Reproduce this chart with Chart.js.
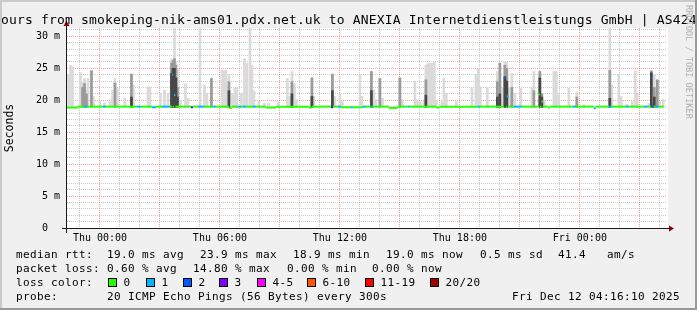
<!DOCTYPE html>
<html>
<head>
<meta charset="utf-8">
<script src="https://cdn.jsdelivr.net/npm/chart.js@4.4.0/dist/chart.umd.min.js"></script>
<style>
  body { margin: 0; background: #f0f0f0; }
  canvas { display: block; }
</style>
</head>
<body>
<canvas id="myChart" width="697" height="310"></canvas>
<script>
// all times are hours counted from Thu 00:00
const tickHours = [0, 6, 12, 18, 24];
const tickLabels = ['Thu 00:00', 'Thu 06:00', 'Thu 12:00', 'Thu 18:00', 'Fri 00:00'];

// smoke: highest ping of each step (ms)
const smokeTime = [
  -1.575, -1.475, -1.375, -0.975, -0.875, -0.775, -0.675, -0.6, -0.425, -0.325,
  0, 0.225, 0.5, 0.625, 0.75, 0.875, 1.25, 1.575, 1.675, 2.4,
  2.5, 3.025, 3.225, 3.4, 3.575, 3.65, 3.725, 3.8, 3.875, 4.025,
  4.275, 4.4, 5.0, 5.225, 5.35, 5.575, 6.1, 6.2, 6.3, 6.45,
  6.625, 6.75, 6.85, 7.075, 7.225, 7.35, 7.5, 7.6, 7.7, 7.95,
  8.225, 8.425, 8.925, 9.375, 9.5, 9.6, 9.725, 9.825, 10.6, 10.7,
  11.625, 11.75, 12.0, 12.125, 13.0, 13.1, 13.575, 13.7, 13.8, 14.0,
  14.125, 15.0, 15.125, 15.75, 15.875, 16.025, 16.2, 16.3, 16.4, 16.5,
  16.6, 16.725, 16.825, 17.1, 17.2, 17.325, 17.825, 18.6, 18.8, 18.925,
  19.025, 19.375, 19.875, 20.0, 20.15, 20.25, 20.35, 20.475, 20.6, 20.75,
  21.05, 21.6, 21.7, 22.0, 22.1, 22.225, 22.7, 22.825, 22.95, 23.45,
  23.85, 24.2, 25.5, 25.6, 25.95, 26.075, 26.35, 26.625, 26.775, 26.875,
  27.45, 27.575, 27.725, 27.875, 28.0, 28.175
];
const smokeMax = [
  24.0, 25.5, 25.2, 24.3, 22.8, 23.4, 22.0, 23.4, 24.7, 20.6,
  19.9, 19.6, 20.1, 21.6, 23.4, 21.8, 20.3, 24.1, 22.4, 22.1,
  22.1, 21.1, 21.6, 21.1, 26.3, 26.5, 31.5, 26.0, 25.0, 20.0,
  22.6, 20.3, 31.5, 22.4, 21.1, 23.4, 24.7, 24.7, 24.7, 24.0,
  21.1, 21.9, 21.9, 21.1, 26.5, 25.8, 31.5, 25.5, 21.5, 19.8,
  19.5, 19.5, 19.8, 23.4, 20.6, 24.5, 22.6, 20.1, 23.5, 20.6,
  24.1, 20.6, 21.1, 19.8, 24.0, 20.6, 24.5, 21.6, 20.1, 23.4,
  20.3, 23.5, 20.1, 23.0, 20.1, 19.8, 19.8, 25.5, 25.8, 25.8,
  25.8, 26.0, 20.0, 19.8, 23.4, 21.1, 19.8, 21.9, 24.0, 25.0,
  22.1, 22.0, 24.5, 25.8, 22.0, 26.0, 26.0, 22.0, 24.2, 21.1,
  21.9, 22.1, 24.5, 24.5, 21.0, 20.0, 24.5, 24.5, 21.0, 21.9,
  21.3, 19.3, 31.5, 22.4, 24.1, 20.6, 19.4, 19.8, 24.6, 21.1,
  19.5, 24.6, 24.0, 23.2, 19.8, 20.1
];
// darker smoke where many pings were slow
const bandTime = [
  -0.875, -0.775, -0.675, -0.425, 0.75, 1.575, 3.575, 3.65, 3.725, 3.8,
  3.875, 5.575, 6.45, 9.6, 10.6, 11.625, 13.575, 14.0, 15.0, 16.3,
  19.875, 20.0, 20.25, 20.35, 20.6, 21.7, 22.0, 22.1, 23.85, 25.5,
  27.575, 27.725, 27.875
];
const bandTop = [
  22.0, 22.6, 21.0, 24.6, 22.7, 24.1, 25.8, 26.2, 26.5, 25.5,
  22.0, 23.4, 22.9, 22.9, 23.5, 24.1, 24.5, 23.4, 23.5, 23.2,
  22.9, 25.8, 25.5, 25.0, 22.0, 21.5, 24.5, 21.0, 20.5, 24.7,
  24.6, 22.0, 23.2
];
const coreTime = [
  1.575, 3.575, 3.65, 3.725, 3.8, 3.875, 6.45, 9.6, 10.6, 11.625,
  13.575, 16.3, 19.875, 20.0, 20.25, 20.35, 22.0, 22.1, 25.5, 27.575, 27.725
];
const coreTop = [
  20.5, 24.2, 25.0, 25.0, 23.5, 20.5, 21.5, 21.0, 20.6, 21.5,
  21.5, 20.8, 20.5, 21.0, 23.7, 23.0, 23.5, 20.5, 20.3, 24.3, 20.5
];
const smokeFloor = 18.9;

// median rtt, one value per segment; a segment lasts until the next start
const medStart = [
  -1.65, -1.1, -0.8, -0.65, 0.15, 0.3, 1.85, 2.05, 2.6, 2.8,
  3.1, 3.5, 3.6, 3.65, 3.7, 3.775, 4.55, 4.65, 4.9, 5.2,
  5.65, 5.8, 6.45, 6.6, 6.9, 7.05, 7.15, 7.3, 7.65, 7.8,
  8.3, 8.8, 10.45, 10.6, 11.55, 11.65, 11.9, 12.05, 12.55, 12.65,
  13.15, 13.3, 13.55, 13.65, 14.45, 14.9, 15.4, 15.5, 16.8, 16.95,
  18.9, 19.0, 20.2, 20.3, 20.35, 20.45, 20.7, 21.1, 21.9, 22.0,
  22.075, 22.15, 22.4, 22.5, 23.65, 23.8, 24.7, 24.8, 25.45, 25.6,
  26.3, 26.45, 27.2, 27.4, 27.55, 27.6, 27.7, 27.8, 27.95
];
const medEnd = 28.2;
const medRtt = [
  18.85, 19.0, 19.0, 19.0, 19.0, 19.0, 19.0, 19.0, 18.9, 19.0,
  19.0, 19.0, 24.0, 19.0, 20.8, 19.0, 18.9, 19.0, 19.0, 19.0,
  19.0, 19.0, 18.8, 19.0, 19.0, 19.0, 19.0, 19.0, 19.0, 19.0,
  18.85, 19.0, 18.85, 19.0, 18.9, 19.0, 19.0, 18.9, 18.9, 18.9,
  19.0, 19.0, 19.0, 19.0, 18.8, 19.0, 19.0, 19.0, 18.85, 19.0,
  19.0, 19.0, 23.5, 19.0, 20.6, 19.0, 19.0, 19.0, 20.9, 19.0,
  19.8, 19.0, 18.85, 19.0, 19.0, 19.0, 18.75, 19.0, 19.0, 19.0,
  19.0, 19.0, 19.0, 19.0, 23.5, 19.0, 19.0, 19.0, 19.0
];
// lost pings out of 20
const medLoss = [
  0, 0, 1, 0, 1, 0, 1, 0, 1, 0,
  1, 0, 1, 0, 1, 0, 3, 0, 1, 0,
  1, 0, 0, 0, 1, 0, 1, 0, 1, 0,
  0, 0, 0, 0, 3, 0, 1, 0, 1, 0,
  1, 0, 1, 0, 0, 0, 1, 0, 0, 0,
  1, 0, 2, 0, 1, 0, 1, 0, 0, 0,
  0, 0, 0, 0, 1, 0, 1, 0, 1, 0,
  1, 0, 1, 0, 2, 2, 0, 1, 0
];

const lossNames = ['0', '1', '2', '3', '4-5', '6-10', '11-19', '20/20'];
const lossColors = ['#26ff00', '#00b8ff', '#0059ff', '#7e00ff', '#ff00ff', '#ff5500', '#ff0000', '#a10000'];

const titleText = 'Last 30 Hours from smokeping-nik-ams01.pdx.net.uk to ANEXIA Internetdienstleistungs GmbH | AS42473';
const rttStats = ['19.0 ms avg', '23.9 ms max', '18.9 ms min', '19.0 ms now', '0.5 ms sd', '41.4', 'am/s'];
const lossStats = ['0.60 % avg', '14.80 % max', '0.00 % min', '0.00 % now'];
const probeText = '20 ICMP Echo Pings (56 Bytes) every 300s';
const stampText = 'Fri Dec 12 04:16:10 2025';

//================================chart========================================
var chart;
const MONO = '"DejaVu Sans Mono", monospace';

function lossBucket(n) {
    if (n <= 3) return n;
    if (n <= 5) return 4;
    if (n <= 10) return 5;
    if (n <= 19) return 6;
    return 7;
}

function smokeBars(times, tops) {
    let out = [];
    for (let i = 0; i < times.length; i++) {
        out.push({ x: times[i], y: [smokeFloor, tops[i]] });
    }
    return out;
}

function medianPoints() {
    let out = [];
    for (let i = 0; i < medStart.length; i++) {
        let end = i + 1 < medStart.length ? medStart[i + 1] : medEnd;
        out.push({ x: medStart[i], y: medRtt[i] });
        out.push({ x: end, y: medRtt[i] });
    }
    return out;
}

function intTicks(from, to) {
    return function (axis) {
        let t = [];
        for (let v = from; v <= to; v++) t.push({ value: v });
        axis.ticks = t;
    };
}

const rrdLook = {
    id: 'rrdLook',
    beforeDraw(chart) {
        const c = chart.ctx, a = chart.chartArea;
        c.save();
        c.fillStyle = '#f0f0f0';
        c.fillRect(0, 0, chart.width, chart.height);
        c.fillStyle = '#ffffff';
        c.fillRect(a.left, a.top, a.right - a.left + 1, a.bottom - a.top);
        c.restore();
    },
    afterDraw(chart) {
        const c = chart.ctx, a = chart.chartArea;
        c.save();

        // axes with arrows
        c.strokeStyle = '#1a1a1a';
        c.lineWidth = 1;
        c.beginPath();
        c.moveTo(a.left - 5, a.bottom + 0.5);
        c.lineTo(a.right + 3, a.bottom + 0.5);
        c.moveTo(a.left - 0.5, a.bottom + 5);
        c.lineTo(a.left - 0.5, a.top - 2);
        c.stroke();
        c.fillStyle = '#8a0000';
        c.beginPath();
        c.moveTo(a.right + 7, a.bottom + 0.5);
        c.lineTo(a.right + 2, a.bottom - 2.5);
        c.lineTo(a.right + 2, a.bottom + 3.5);
        c.fill();
        c.beginPath();
        c.moveTo(a.left - 0.5, a.top - 7);
        c.lineTo(a.left - 3.5, a.top - 2);
        c.lineTo(a.left + 2.5, a.top - 2);
        c.fill();

        c.fillStyle = '#000';
        c.textBaseline = 'alphabetic';
        c.textAlign = 'left';

        // title, wider than the picture
        c.font = '13px ' + MONO;
        c.letterSpacing = '0.17px';
        let cut = c.measureText('Last 30 H').width;
        c.fillText(titleText, 1 - cut, 23.5);

        // legend
        c.font = '11px ' + MONO;
        c.letterSpacing = '0.38px';
        c.fillText('median rtt:', 16, 258);
        const rttX = [107, 200, 293, 386, 480, 558, 607];
        rttStats.forEach((s, i) => c.fillText(s, rttX[i], 258));

        c.fillText('packet loss:', 16, 272);
        const lossX = [107, 193, 287, 372];
        lossStats.forEach((s, i) => c.fillText(s, lossX[i], 272));

        c.fillText('loss color:', 16, 286);
        const boxX = [108, 146, 183, 219, 257, 307, 365, 430];
        lossNames.forEach((s, i) => {
            c.fillStyle = lossColors[i];
            c.fillRect(boxX[i] + 0.5, 278.5, 8, 8);
            c.strokeStyle = '#000';
            c.strokeRect(boxX[i] + 0.5, 278.5, 8, 8);
            c.fillStyle = '#000';
            c.fillText(s, boxX[i] + 15.5, 286);
        });

        c.fillText('probe:', 16, 299.5);
        c.fillText(probeText, 107, 299.5);
        c.textAlign = 'right';
        c.fillText(stampText, 680, 299.5);

        // credit down the right side
        c.textAlign = 'left';
        c.font = '8.6px ' + MONO;
        c.letterSpacing = '0px';
        c.fillStyle = '#b0b0b0';
        c.translate(686, 5);
        c.rotate(Math.PI / 2);
        c.fillText('RRDTOOL / TOBI OETIKER', 0, 0);
        c.setTransform(1, 0, 0, 1, 0, 0);

        // 3d frame
        c.fillStyle = '#cbcbcb';
        c.fillRect(0, 0, chart.width, 2);
        c.fillRect(0, 0, 2, chart.height);
        c.fillStyle = '#999999';
        c.fillRect(0, chart.height - 2, chart.width, 2);
        c.fillRect(chart.width - 2, 0, 2, chart.height);
        c.restore();
    }
};

function showchart() {
    const ctx = document.getElementById('myChart');
    Chart.defaults.font.family = MONO;

    chart = new Chart(ctx, {
        type: 'bar',
        data: {
            datasets: [{
                type: 'line',
                label: 'median rtt',
                data: medianPoints(),
                borderColor: lossColors[0],
                borderWidth: 2,
                borderCapStyle: 'butt',
                pointRadius: 0,
                tension: 0,
                fill: false,
                order: 0,
                segment: {
                    borderColor: (s) => s.p0DataIndex % 2
                        ? 'rgba(0,0,0,0)'
                        : lossColors[lossBucket(medLoss[s.p0DataIndex / 2])]
                }
            }, {
                label: 'smoke core',
                data: smokeBars(coreTime, coreTop),
                backgroundColor: '#474747',
                order: 1
            }, {
                label: 'smoke band',
                data: smokeBars(bandTime, bandTop),
                backgroundColor: '#9a9a9a',
                order: 2
            }, {
                label: 'smoke',
                data: smokeBars(smokeTime, smokeMax),
                backgroundColor: '#dadada',
                order: 3
            }]
        },
        options: {
            responsive: false,
            animation: false,
            devicePixelRatio: 1,
            layout: { padding: { left: 0, right: 30, top: 28, bottom: 0 } },
            datasets: {
                bar: { grouped: false, barThickness: 2, borderWidth: 0 }
            },
            plugins: {
                legend: { display: false },
                tooltip: { enabled: false }
            },
            scales: {
                x: {
                    type: 'linear',
                    bounds: 'data',
                    min: -1.65,
                    max: 28.36,
                    offset: false,
                    afterBuildTicks: intTicks(-1, 28),
                    afterFit: (s) => { s.height = 82; },
                    grid: {
                        offset: false,
                        drawTicks: false,
                        lineWidth: 1,
                        color: (g) => g.tick.value % 3 === 0 ? 'rgba(255,90,90,0.6)' : 'rgba(150,150,150,0.5)'
                    },
                    border: { display: false, dash: [1, 1] },
                    ticks: {
                        autoSkip: false,
                        maxRotation: 0,
                        padding: 4,
                        color: '#000',
                        font: { size: 10 },
                        callback: (v) => {
                            let i = tickHours.indexOf(Math.round(v));
                            return i >= 0 && Math.abs(v - tickHours[i]) < 0.01 ? tickLabels[i] : '';
                        }
                    }
                },
                y: {
                    type: 'linear',
                    bounds: 'data',
                    min: 0,
                    max: 31.31,
                    afterBuildTicks: intTicks(0, 31),
                    afterFit: (s) => { s.width = 67; },
                    grid: {
                        drawTicks: false,
                        lineWidth: 1,
                        color: (g) => g.tick.value === 0 ? 'rgba(0,0,0,0)'
                            : g.tick.value % 5 === 0 ? 'rgba(255,90,90,0.6)' : 'rgba(150,150,150,0.5)'
                    },
                    border: { display: false, dash: [1, 1] },
                    title: {
                        display: true,
                        text: 'Seconds',
                        color: '#000',
                        font: { size: 11.5 },
                        padding: { top: 3.5, bottom: 0 }
                    },
                    ticks: {
                        autoSkip: false,
                        padding: 7,
                        color: '#000',
                        font: { size: 10 },
                        callback: (v) => v % 5 === 0 ? (v === 0 ? '0  ' : v + ' m') : ''
                    }
                }
            }
        },
        plugins: [rrdLook]
    });
}

showchart();
</script>
</body>
</html>
